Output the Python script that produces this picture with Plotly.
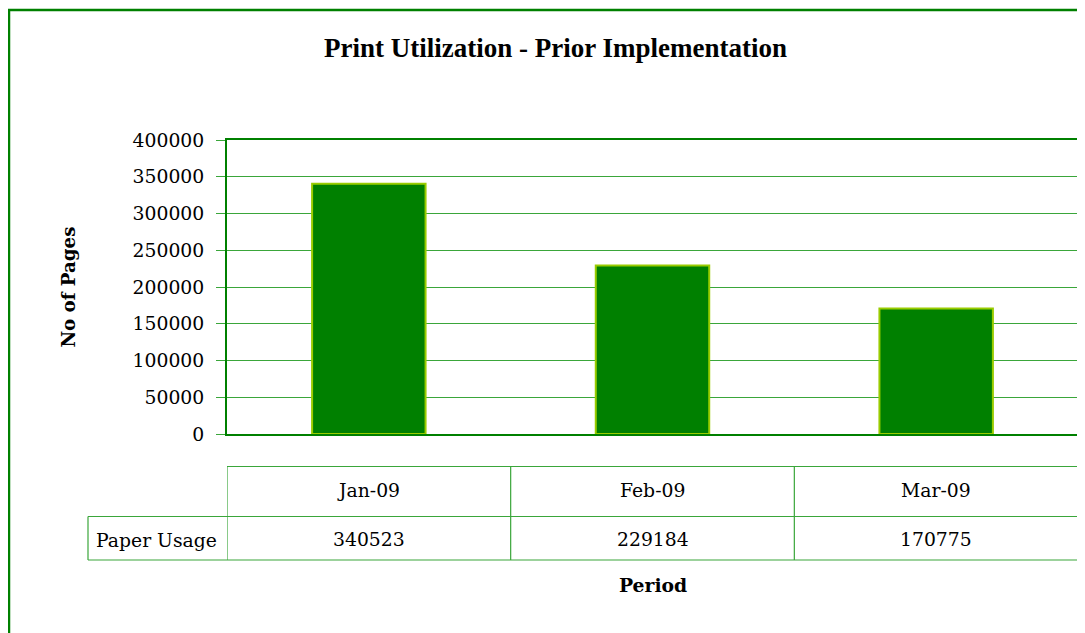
import plotly.graph_objects as go

periods = ["Jan-09", "Feb-09", "Mar-09"]
paper_usage = [340523, 229184, 170775]
series_name = "Paper Usage"
y_ticks = [0, 50000, 100000, 150000, 200000, 250000, 300000, 350000, 400000]

W, H = 1085, 633
OFF = 8  # page body offset
L, R, T, B = 227, 1078, 140, 434  # plot area in screen pixels
pw, ph = R - L, B - T

def px(x):
    return (x - L) / pw

def py(y):
    return (B - y) / ph

FONT = "DejaVu Serif"
TFONT = "Liberation Serif"
DARK = "#008000"
GRID = "#3aa63a"

fig = go.Figure()
fig.add_trace(go.Bar(
    x=periods, y=paper_usage, name=series_name,
    marker=dict(color=DARK, line=dict(color="#99cc00", width=2)),
    width=0.4,
))

shapes = []
shapes.append(dict(type="rect", xref="paper", yref="paper",
                   x0=px(9), x1=px(1100), y0=py(650), y1=py(10),
                   line=dict(color=DARK, width=2.5), layer="below"))

y_top, y_mid, y_bot = py(466.5), py(516.5), py(560)
x_lab = px(88)
n = len(periods)
tl = dict(color=GRID, width=1.2)
for yy in (y_top, y_mid, y_bot):
    shapes.append(dict(type="line", xref="x", yref="paper",
                       x0=-0.5, x1=n - 0.5, y0=yy, y1=yy, line=tl))
for yy in (y_mid, y_bot):
    shapes.append(dict(type="line", xref="paper", yref="paper",
                       x0=x_lab, x1=0, y0=yy, y1=yy, line=tl))
shapes.append(dict(type="line", xref="paper", yref="paper",
                   x0=x_lab, x1=x_lab, y0=y_mid, y1=y_bot, line=tl))
for i in range(n + 1):
    shapes.append(dict(type="line", xref="x", yref="paper",
                       x0=i - 0.5, x1=i - 0.5, y0=y_top, y1=y_bot, line=tl))

TS = 18.8
annotations = []
for i, (p, v) in enumerate(zip(periods, paper_usage)):
    annotations.append(dict(x=p, xref="x", y=py(491), yref="paper",
                            text=p, showarrow=False, yanchor="middle",
                            font=dict(family=FONT, size=TS, color="black")))
    annotations.append(dict(x=p, xref="x", y=py(539), yref="paper",
                            text=str(v), showarrow=False, yanchor="middle",
                            font=dict(family=FONT, size=TS, color="black")))
annotations.append(dict(x=px(94), xref="paper", y=py(540), yref="paper",
                        text=series_name, showarrow=False, xanchor="left", yanchor="middle",
                        font=dict(family=FONT, size=TS, color="black")))
annotations.append(dict(x=0.5, xref="paper", y=py(585), yref="paper",
                        text="<b>Period</b>", showarrow=False, yanchor="middle",
                        font=dict(family=FONT, size=18.8, color="black")))
annotations.append(dict(x=px(55), xref="paper", y=py(287), yref="paper",
                        text="<b>No of Pages</b>", showarrow=False, textangle=-90,
                        font=dict(family=FONT, size=18.2, color="black")))
annotations.append(dict(x=px(555), xref="paper", y=py(48), yref="paper",
                        text="<b>Print Utilization - Prior Implementation</b>", showarrow=False,
                        yanchor="middle",
                        font=dict(family=TFONT, size=27, color="black")))

fig.update_layout(
    width=W, height=H,
    margin=dict(l=L - OFF, r=W - (R - OFF), t=T - OFF, b=H - (B - OFF), pad=0),
    paper_bgcolor="white", plot_bgcolor="white",
    showlegend=False,
    shapes=shapes, annotations=annotations,
    font=dict(family=FONT, size=16, color="black"),
    bargap=0.6,
)
fig.update_xaxes(showticklabels=False, ticks="", showgrid=False,
                 showline=True, linecolor=DARK, linewidth=2, mirror=True,
                 range=[-0.5, n - 0.5])
fig.update_yaxes(range=[0, 400000], tickvals=y_ticks, ticks="outside", ticklen=9,
                 tickcolor=GRID, showgrid=True, gridcolor=GRID, gridwidth=1,
                 showline=True, linecolor=DARK, linewidth=2, mirror=True,
                 zeroline=False, tickformat="d", ticklabelstandoff=8,
                 tickfont=dict(family=FONT, size=18.8, color="black"))

fig.write_html("out.html")
